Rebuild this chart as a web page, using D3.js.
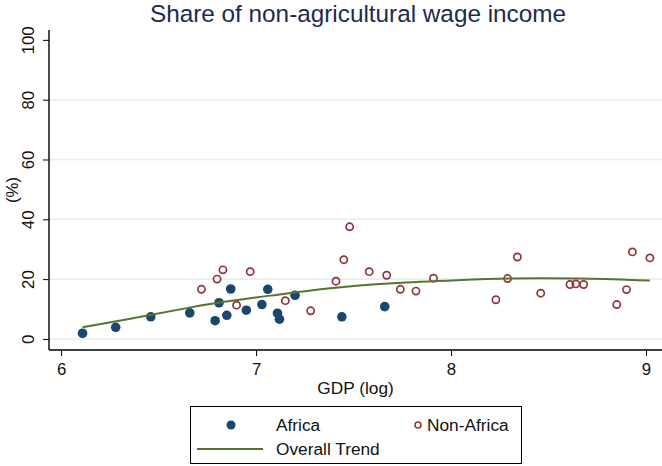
<!DOCTYPE html>
<html>
<head>
<meta charset="utf-8">
<script src="https://cdn.jsdelivr.net/npm/d3@7"></script>
<style>
  body { margin: 0; background: #fff; }
  text { font-family: "Liberation Sans", Arial, sans-serif; }
</style>
</head>
<body>
<svg id="chart" width="662" height="466"></svg>
<script>
// Africa (filled markers): log GDP, share %
var africaX = [6.11, 6.28, 6.46, 6.66, 6.79, 6.81, 6.85, 6.87, 6.95, 7.03, 7.06, 7.11, 7.12, 7.20, 7.44, 7.66];
var africaY = [1.9, 3.9, 7.4, 8.7, 6.1, 12.1, 7.9, 16.7, 9.6, 11.5, 16.6, 8.6, 6.6, 14.6, 7.4, 10.8];
// Non-Africa (hollow markers)
var otherX = [6.72, 6.80, 6.83, 6.90, 6.97, 7.15, 7.28, 7.41, 7.45, 7.48, 7.58, 7.67, 7.74, 7.82, 7.91,
              8.23, 8.29, 8.34, 8.46, 8.61, 8.64, 8.68, 8.85, 8.90, 8.93, 9.02];
var otherY = [16.6, 20.0, 23.1, 11.3, 22.5, 12.8, 9.4, 19.3, 26.5, 37.5, 22.5, 21.3, 16.6, 16.0, 20.3,
              13.1, 20.2, 27.4, 15.3, 18.2, 18.4, 18.2, 11.5, 16.5, 29.1, 27.1];
// Overall trend
var trendX = [6.11, 6.46, 6.66, 6.81, 7.07, 7.36, 7.70, 8.05, 8.29, 8.65, 9.02];
var trendY = [3.9, 8.0, 10.5, 12.3, 14.4, 17.0, 18.8, 19.7, 20.3, 20.3, 19.5];
var xTicks = [6, 7, 8, 9];
var yTicks = [0, 20, 40, 60, 80, 100];

var svg = d3.select("#chart");
var x = d3.scaleLinear().domain([5.938, 9.082]).range([49, 662]);
var y = d3.scaleLinear().domain([-3.7, 103.3]).range([350, 30]);
var fs = 16.8;

// gridlines
svg.append("g").selectAll("line")
  .data(yTicks.filter(d => d < 100))
  .enter().append("line")
  .attr("x1", 50).attr("x2", 662)
  .attr("y1", d => y(d)).attr("y2", d => y(d))
  .attr("stroke", "#e6eef0").attr("stroke-width", 1.6);

// y axis, labels turned like the original
var yAxis = svg.append("g").attr("transform", "translate(49,0)")
  .call(d3.axisLeft(y).tickValues(yTicks).tickSize(6));
yAxis.select(".domain").attr("stroke", "#000").attr("stroke-width", 1.4).attr("d", "M0,30V350");
yAxis.selectAll(".tick line").attr("stroke", "#000");
yAxis.selectAll(".tick text")
  .attr("font-size", fs).attr("fill", "#111")
  .attr("text-anchor", "middle")
  .attr("transform", "translate(-21,0) rotate(-90)")
  .attr("x", 0).attr("y", 0).attr("dy", "0.35em");

// x axis
var xAxis = svg.append("g").attr("transform", "translate(0,350)")
  .call(d3.axisBottom(x).tickValues(xTicks).tickFormat(d3.format("d")).tickSize(6).tickPadding(7));
xAxis.select(".domain").attr("stroke", "#000").attr("stroke-width", 1.4).attr("d", "M49,0H662");
xAxis.selectAll(".tick line").attr("stroke", "#000");
xAxis.selectAll(".tick text").attr("font-size", fs).attr("fill", "#111");

// titles
svg.append("text").attr("x", 358).attr("y", 22).attr("text-anchor", "middle")
  .attr("font-size", 24.3).attr("fill", "#1e2b4d")
  .text("Share of non-agricultural wage income");
svg.append("text").attr("x", 355.5).attr("y", 394).attr("text-anchor", "middle")
  .attr("font-size", 17.3).attr("fill", "#111").text("GDP (log)");
svg.append("text").attr("transform", "translate(12,190) rotate(-90)")
  .attr("text-anchor", "middle").attr("dy", "0.35em")
  .attr("font-size", fs).attr("fill", "#111").text("(%)");

// points
var africa = africaX.map((d, i) => ({ x: d, y: africaY[i] }));
var other = otherX.map((d, i) => ({ x: d, y: otherY[i] }));

svg.append("g").selectAll("circle").data(africa).enter().append("circle")
  .attr("cx", d => x(d.x)).attr("cy", d => y(d.y)).attr("r", 4.8)
  .attr("fill", "#1a476f");

svg.append("g").selectAll("circle").data(other).enter().append("circle")
  .attr("cx", d => x(d.x)).attr("cy", d => y(d.y)).attr("r", 3.6)
  .attr("fill", "none").attr("stroke", "#90353b").attr("stroke-width", 1.7);

// trend
var trend = trendX.map((d, i) => ({ x: d, y: trendY[i] }));
svg.append("path").datum(trend)
  .attr("d", d3.line().x(d => x(d.x)).y(d => y(d.y)).curve(d3.curveBasis))
  .attr("fill", "none").attr("stroke", "#55752f").attr("stroke-width", 2);

// legend
var lg = svg.append("g");
lg.append("rect").attr("x", 190.5).attr("y", 406.5).attr("width", 331).attr("height", 57)
  .attr("fill", "#fff").attr("stroke", "#000").attr("stroke-width", 1);
lg.append("circle").attr("cx", 231).attr("cy", 425).attr("r", 4.5).attr("fill", "#1a476f");
lg.append("text").attr("x", 276).attr("y", 431).attr("font-size", 17.3).attr("fill", "#111").text("Africa");
lg.append("circle").attr("cx", 418).attr("cy", 425).attr("r", 3).attr("fill", "none")
  .attr("stroke", "#90353b").attr("stroke-width", 1.5);
lg.append("text").attr("x", 427).attr("y", 431).attr("font-size", 17.3).attr("fill", "#111").text("Non-Africa");
lg.append("line").attr("x1", 197).attr("x2", 263).attr("y1", 449).attr("y2", 449)
  .attr("stroke", "#55752f").attr("stroke-width", 2);
lg.append("text").attr("x", 276).attr("y", 455).attr("font-size", 17.3).attr("fill", "#111").text("Overall Trend");
</script>
</body>
</html>
